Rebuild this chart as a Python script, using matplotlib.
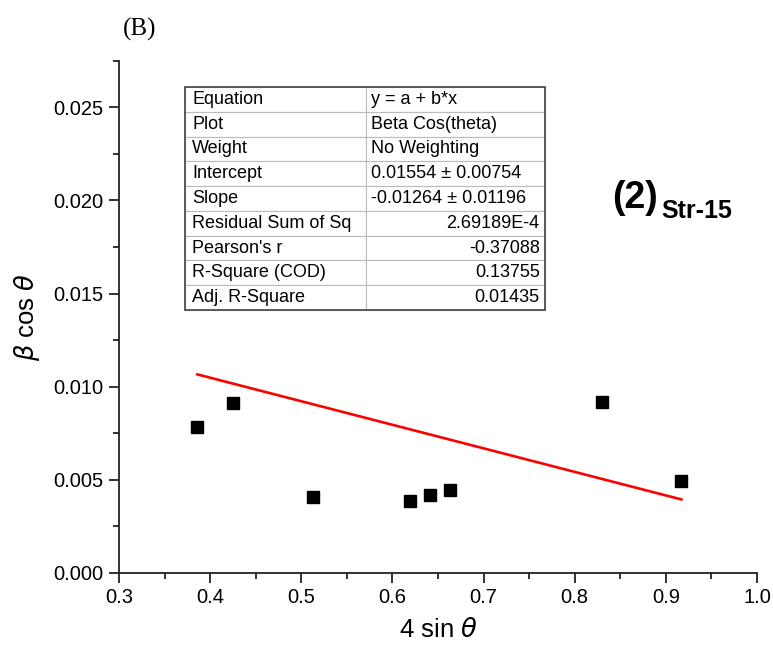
import matplotlib
matplotlib.use("Agg")
import matplotlib.pyplot as plt
from matplotlib.table import Table
from matplotlib.patches import Rectangle
import numpy as np

plt.rcParams['font.family'] = ['Liberation Sans', 'DejaVu Sans']
plt.rcParams['mathtext.fontset'] = 'dejavusans'

# data
sin_theta = [0.386, 0.425, 0.513, 0.619, 0.641, 0.663, 0.830, 0.917]
beta_cos = [0.00782, 0.00911, 0.00407, 0.00386, 0.00418, 0.00445, 0.00916, 0.00493]
intercept = 0.01554
slope = -0.01264

row_names = ["Equation", "Plot", "Weight", "Intercept", "Slope",
             "Residual Sum of Sq", "Pearson's r", "R-Square (COD)", "Adj. R-Square"]
row_values = ["y = a + b*x", "Beta Cos(theta)", "No Weighting",
              "0.01554 \u00b1 0.00754", "-0.01264 \u00b1 0.01196",
              "2.69189E-4", "-0.37088", "0.13755", "0.01435"]

fig = plt.figure(figsize=(7.73, 6.5), dpi=100)
ax = fig.add_axes([119/773, 1-573/650, 638/773, 512.3/650])

ax.plot(sin_theta, beta_cos, 's', color='black', markersize=8.5, zorder=3)
xfit = np.array([min(sin_theta), max(sin_theta)])
ax.plot(xfit, intercept + slope * xfit, color='red', linewidth=1.9, zorder=2)

ax.set_xlim(0.3, 1.0)
ax.set_ylim(0.0, 0.0275)
ax.set_xticks(np.arange(0.3, 1.01, 0.1))
ax.set_xticks(np.arange(0.35, 1.0, 0.1), minor=True)
ax.set_yticks(np.arange(0, 0.0251, 0.005))
ax.set_yticks(np.arange(0.0025, 0.0276, 0.005), minor=True)
ax.xaxis.set_major_formatter(matplotlib.ticker.FormatStrFormatter('%.1f'))
ax.yaxis.set_major_formatter(matplotlib.ticker.FormatStrFormatter('%.3f'))
ax.spines['top'].set_visible(False)
ax.spines['right'].set_visible(False)
for s in ('left', 'bottom'):
    ax.spines[s].set_linewidth(1.3)
    ax.spines[s].set_color('#222222')
ax.tick_params(which='major', direction='out', length=7, width=1.3, labelsize=14.5,
               colors='#222222', pad=4)
ax.tick_params(which='minor', direction='out', length=4, width=1.3, colors='#222222')
ax.tick_params(labelcolor='black')

ax.set_xlabel(r'4 sin $\theta$', fontsize=18.5, labelpad=8)
ax.set_ylabel(r'$\beta$ cos $\theta$', fontsize=18.5, labelpad=8)

# fit result table
tx0, tx1 = (185-119)/638, (545-119)/638
ty0, ty1 = (573-310)/512.3, (573-87)/512.3
tb = Table(ax, bbox=[tx0, ty0, tx1-tx0, ty1-ty0])
w0 = 0.503
for i, (name, val) in enumerate(zip(row_names, row_values)):
    c = tb.add_cell(i, 0, w0, 1/9, text=name, loc='left', edgecolor='#bbbbbb', facecolor='white')
    c.PAD = 0.04
    c.set_linewidth(0.8)
    loc = 'left' if i < 5 else 'right'
    c = tb.add_cell(i, 1, 1-w0, 1/9, text=val, loc=loc, edgecolor='#bbbbbb', facecolor='white')
    c.PAD = 0.03
    c.set_linewidth(0.8)
tb.auto_set_font_size(False)
tb.set_fontsize(13)
ax.add_table(tb)
ax.add_patch(Rectangle((tx0, ty0), tx1-tx0, ty1-ty0, transform=ax.transAxes,
                       fill=False, edgecolor='#444444', linewidth=1.2, zorder=10))

fig.text(612/773, 1-208/650, '(2)', fontsize=27, fontweight='bold', va='baseline')
fig.text(661/773, 1-218/650, 'Str-15', fontsize=18, fontweight='bold', va='baseline')
fig.text(123/773, 1-36/650, '(B)', fontsize=18, family='Liberation Serif', va='baseline')

fig.savefig('out.png', dpi=100)
